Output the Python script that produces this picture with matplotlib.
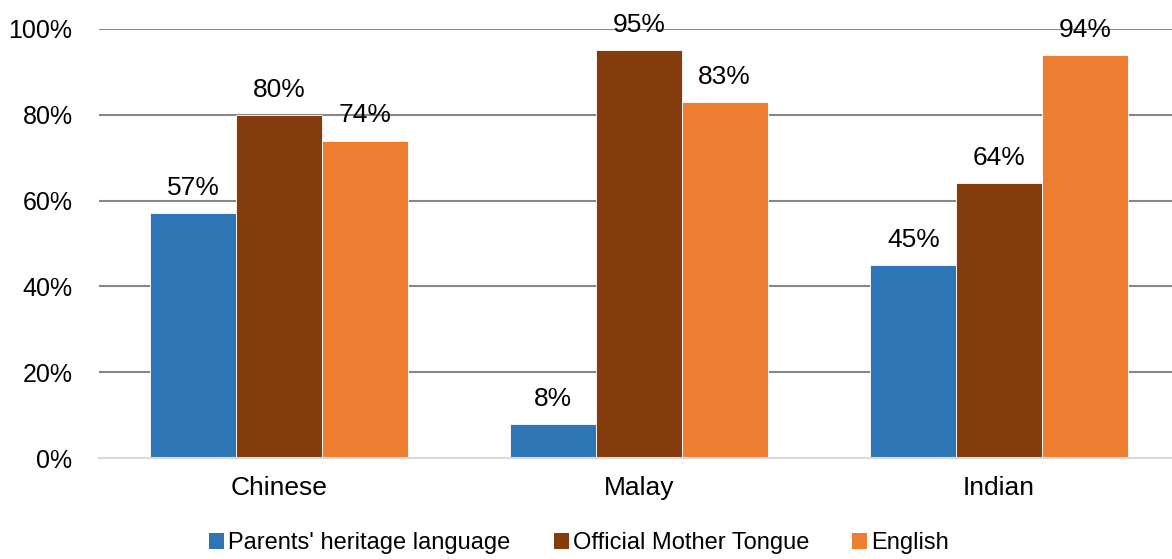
import matplotlib
matplotlib.use("Agg")
import matplotlib.pyplot as plt
import numpy as np
from matplotlib.patches import Patch

categories = ["Chinese", "Malay", "Indian"]
series_names = ["Parents' heritage language", "Official Mother Tongue", "English"]
heritage = [57, 8, 45]
mother_tongue = [80, 95, 64]
english = [74, 83, 94]
yticks = [0, 20, 40, 60, 80, 100]
colors = ["#2E75B6", "#843C0C", "#ED7D31"]

plt.rcParams['font.family'] = ['Liberation Sans', 'DejaVu Sans']

W, H = 1172, 559
fig = plt.figure(figsize=(W / 100, H / 100), dpi=100)
ax = fig.add_axes([99 / W, 1 - 458 / H, 1080 / W, 429 / H])

x = np.arange(len(categories))
w = 1 / 4.2
for i, (vals, col) in enumerate(zip([heritage, mother_tongue, english], colors)):
    bars = ax.bar(x + (i - 1) * w, vals, w, color=col, edgecolor="white", linewidth=0.6, zorder=3)
    for b, v in zip(bars, vals):
        ax.annotate(f"{v}%", (b.get_x() + b.get_width() / 2, v), xytext=(0, 13),
                    textcoords="offset points", ha="center", va="baseline", fontsize=19, zorder=4)

ax.set_xlim(-0.5, 2.5)
ax.set_ylim(0, 100)
ax.set_yticks(yticks)
ax.set_yticklabels([f"{t}%" for t in yticks])
ax.set_xticks(x)
ax.set_xticklabels(categories)
ax.tick_params(axis="both", length=0)
ax.tick_params(axis="y", pad=19, labelsize=18)
ax.tick_params(axis="x", pad=13, labelsize=19)
for t in yticks[1:]:
    ax.axhline(t, color="#878787", linewidth=1.5, zorder=1)
for s in ["top", "right", "left"]:
    ax.spines[s].set_visible(False)
ax.spines["bottom"].set_color("#d9d9d9")
ax.spines["bottom"].set_linewidth(1.5)
ax.spines["bottom"].set_zorder(5)

handles = [Patch(facecolor=c, edgecolor="none") for c in colors]
fig.legend(handles, series_names, loc="center", bbox_to_anchor=(579 / W, 1 - 543 / H),
           ncol=3, frameon=False, fontsize=17, handlelength=0.64, handleheight=0.64,
           handletextpad=0.17, columnspacing=1.82, borderpad=0)

fig.savefig("out.png", dpi=100)
